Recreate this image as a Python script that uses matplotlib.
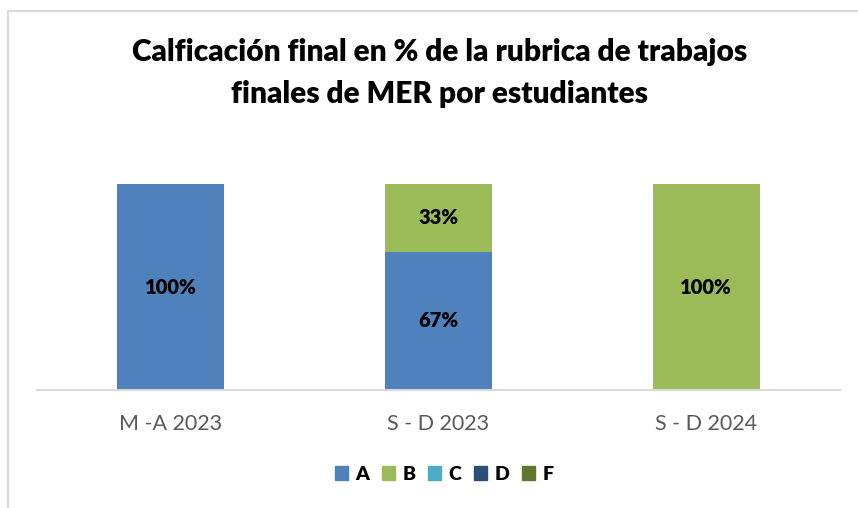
import matplotlib
matplotlib.use('Agg')
import matplotlib.pyplot as plt
from matplotlib.lines import Line2D
from matplotlib.patches import Patch
import numpy as np

# data
periods = ['M -A 2023', 'S - D 2023', 'S - D 2024']
grades = ['A', 'B', 'C', 'D', 'F']
pct_a = [100, 67, 0]
pct_b = [0, 33, 100]
pct_c = [0, 0, 0]
pct_d = [0, 0, 0]
pct_f = [0, 0, 0]
colors = ['#4F81BD', '#9BBB59', '#4BACC6', '#2C4D75', '#5F7530']

plt.rcParams['font.family'] = ['Lato', 'DejaVu Sans']

W, H = 858, 508
fig = plt.figure(figsize=(W / 100, H / 100), dpi=100)

# chart border (only top and left visible)
fig.add_artist(Line2D([7.5 / W, 7.5 / W], [0, 1 - 11 / H], color='#D9D9D9', lw=1.5))
fig.add_artist(Line2D([7.5 / W, 1], [1 - 11 / H, 1 - 11 / H], color='#D9D9D9', lw=1.5))

ax = fig.add_axes([37 / W, (H - 390) / H, (840 - 37) / W, 206 / H])
x = np.arange(len(periods))
series = [pct_a, pct_b, pct_c, pct_d, pct_f]
bottom = np.zeros(len(periods))
for vals, col in zip(series, colors):
    vals = np.array(vals, dtype=float)
    bars = ax.bar(x, vals, 0.4, bottom=bottom, color=col)
    for b, v, y0 in zip(bars, vals, bottom):
        if v > 0:
            ax.text(b.get_x() + b.get_width() / 2, y0 + v / 2, '%d%%' % v,
                    ha='center', va='center', fontsize=14.5, fontweight='heavy')
    bottom += vals

ax.set_xlim(-0.5, 2.5)
ax.set_ylim(0, 100)
for s in ['top', 'right', 'left']:
    ax.spines[s].set_visible(False)
ax.spines['bottom'].set_color('#D9D9D9')
ax.spines['bottom'].set_linewidth(1.5)
ax.set_yticks([])
ax.set_xticks(x)
ax.set_xticklabels(periods, fontsize=15.5, color='#595959')
ax.tick_params(axis='x', length=0, pad=17)

fig.text(440 / W, 1 - 52 / H, 'Calficación final en % de la rubrica de trabajos',
         ha='center', va='center', fontsize=21.5, fontweight='heavy')
fig.text(440 / W, 1 - 94 / H, 'finales de MER por estudiantes',
         ha='center', va='center', fontsize=21.5, fontweight='heavy')

handles = [Patch(color=c, label=g) for g, c in zip(grades, colors)]
fig.legend(handles=handles, loc='center', bbox_to_anchor=(444 / W, 1 - 474 / H),
           ncol=5, frameon=False, handlelength=0.7, handleheight=0.7,
           handletextpad=0.35, columnspacing=0.65,
           prop={'weight': 'heavy', 'size': 14})

plt.savefig('out.png', dpi=100)
